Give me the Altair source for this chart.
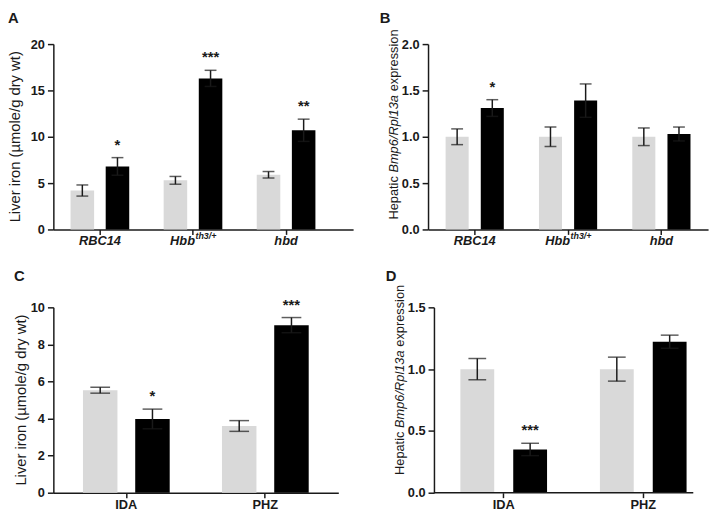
import altair as alt
import pandas as pd

FONT = "Liberation Sans"
GRAY = "#d9d9d9"
INK = "#1a1a1a"

# ---------------- data ----------------
a_cats = ["RBC14", "Hbb", "hbd"]
a_sup = ["", "th3/+", ""]
a_ctrl = [4.2, 5.3, 5.9]
a_ctrl_err = [0.6, 0.42, 0.35]
a_trt = [6.8, 16.3, 10.7]
a_trt_err = [0.95, 0.87, 1.2]
a_stars = ["*", "***", "**"]
a_ticks = [0, 5, 10, 15, 20]

b_cats = ["RBC14", "Hbb", "hbd"]
b_sup = ["", "th3/+", ""]
b_ctrl = [1.0, 1.0, 1.0]
b_ctrl_err = [0.085, 0.105, 0.095]
b_trt = [1.31, 1.39, 1.03]
b_trt_err = [0.09, 0.18, 0.075]
b_stars = ["*", "", ""]
b_ticks = [0.0, 0.5, 1.0, 1.5, 2.0]

c_cats = ["IDA", "PHZ"]
c_ctrl = [5.53, 3.6]
c_ctrl_err = [0.16, 0.29]
c_trt = [3.98, 9.04]
c_trt_err = [0.53, 0.41]
c_stars = ["*", "***"]
c_ticks = [0, 2, 4, 6, 8, 10]

d_cats = ["IDA", "PHZ"]
d_ctrl = [1.0, 1.0]
d_ctrl_err = [0.086, 0.097]
d_trt = [0.35, 1.222]
d_trt_err = [0.05, 0.053]
d_stars = ["***", ""]
d_ticks = [0.0, 0.5, 1.0, 1.5]

liver_title = "Liver iron (µmole/g dry wt)"
hep_title = ["Hepatic", "Bmp6/Rpl13a", "expression"]
hep_italic = [False, True, False]


def bars_df(cats, ctrl, ctrl_err, trt, trt_err, stars):
    rows = []
    for i, c in enumerate(cats):
        rows.append(dict(cat=c, grp="ctrl", val=ctrl[i], lo=ctrl[i] - ctrl_err[i],
                         hi=ctrl[i] + ctrl_err[i], star=""))
        rows.append(dict(cat=c, grp="trt", val=trt[i], lo=trt[i] - trt_err[i],
                         hi=trt[i] + trt_err[i], star=stars[i]))
    return pd.DataFrame(rows)


def panel(df, cats, sup, ticks, fmt, w, h, xscale, oscale, cap, letter, lpos,
          title_spec, axis_labels, rule_len=None):
    xaxis = alt.Axis(title=None, labels=axis_labels, domain=rule_len is None,
                     domainColor=INK, domainWidth=1.5, tickColor=INK, tickWidth=1.5,
                     tickSize=5, labelFont=FONT, labelFontSize=13, labelFontWeight="bold",
                     labelColor=INK, labelBaseline="alphabetic", labelPadding=11,
                     labelAngle=0)
    yaxis = alt.Axis(title=None, values=ticks, format=fmt, grid=False, domainColor=INK,
                     domainWidth=1.5, tickColor=INK, tickWidth=1.5, tickSize=6,
                     labelFont=FONT, labelFontSize=13, labelFontWeight="bold",
                     labelColor=INK, labelPadding=3)
    yscale = alt.Scale(domain=[0, ticks[-1]], nice=False, zero=True)

    def X():
        return alt.X("cat:N", sort=cats, scale=xscale, axis=xaxis)

    def Y(f):
        return alt.Y(f, type="quantitative", scale=yscale, axis=yaxis)

    xo = alt.XOffset("grp:N", sort=["ctrl", "trt"], scale=oscale)
    base = alt.Chart(df)
    bars = base.mark_bar().encode(
        x=X(), xOffset=xo, y=Y("val"),
        color=alt.Color("grp:N", scale=alt.Scale(domain=["ctrl", "trt"], range=[GRAY, "#000000"]), legend=None),
    )
    stem = base.mark_rule(color=INK, strokeWidth=1.5).encode(x=X(), xOffset=xo, y=Y("lo"), y2="hi:Q")
    cap_hi = base.mark_tick(color=INK, thickness=1.5, size=cap).encode(x=X(), xOffset=xo, y=Y("hi"))
    cap_lo = base.mark_tick(color=INK, thickness=1.5, size=cap).encode(x=X(), xOffset=xo, y=Y("lo"))
    stars = base.transform_filter("datum.star != ''").mark_text(
        font=FONT, fontSize=15, fontWeight="bold", color=INK, baseline="alphabetic", dy=-8
    ).encode(x=X(), xOffset=xo, y=Y("hi"), text="star:N")
    layers = [bars, stem, cap_hi, cap_lo, stars]

    if rule_len is not None:
        layers.append(alt.Chart(pd.DataFrame({"v": [0]})).mark_rule(color=INK, strokeWidth=1.5).encode(
            y=Y("v"), x=alt.value(0), x2=alt.value(rule_len)))

    if sup is not None:
        lab = alt.Chart(pd.DataFrame({"cat": cats, "sup": sup}))
        common = dict(font=FONT, fontSize=13, fontWeight="bold", fontStyle="italic", color=INK,
                      baseline="alphabetic")
        layers.append(lab.transform_filter("datum.sup == ''").mark_text(align="center", **common).encode(
            x=X(), y=alt.value(h + 16), text="cat:N"))
        layers.append(lab.transform_filter("datum.sup != ''").mark_text(align="right", dx=2, **common).encode(
            x=X(), y=alt.value(h + 16), text="cat:N"))
        common_sup = dict(common)
        common_sup["fontSize"] = 9
        layers.append(lab.transform_filter("datum.sup != ''").mark_text(align="left", dx=2.5, **common_sup).encode(
            x=X(), y=alt.value(h + 10), text="sup:N"))

    # panel letter
    layers.append(alt.Chart(pd.DataFrame({"t": [letter]})).mark_text(
        font=FONT, fontSize=15, fontWeight="bold", color=INK, align="left", baseline="top"
    ).encode(text="t:N", x=alt.value(lpos[0]), y=alt.value(lpos[1])))

    # y title
    for part in title_spec:
        txt, tx, ty, align, size, italic = part
        layers.append(alt.Chart(pd.DataFrame({"t": [txt]})).mark_text(
            font=FONT, fontSize=size, color=INK, angle=270, baseline="middle", align=align,
            fontStyle="italic" if italic else "normal"
        ).encode(text="t:N", x=alt.value(tx), y=alt.value(ty)))

    return alt.layer(*layers).properties(width=w, height=h)


H = 188
HS = 13


def hep_parts(tx, y_bottom):
    # widths of "Hepatic " and "Bmp6/Rpl13a " at HS px (Arial metrics)
    w1 = 3.668 * HS
    w2 = 6.336 * HS
    return [
        (hep_title[0], tx, y_bottom, "left", HS, hep_italic[0]),
        (hep_title[1], tx, y_bottom - w1, "left", HS, hep_italic[1]),
        (hep_title[2], tx, y_bottom - w1 - w2, "left", HS, hep_italic[2]),
    ]


A = panel(bars_df(a_cats, a_ctrl, a_ctrl_err, a_trt, a_trt_err, a_stars), a_cats, a_sup, a_ticks, "d",
          304, H, alt.Scale(paddingInner=0, paddingOuter=0.11, align=0),
          alt.Scale(paddingInner=0.33, paddingOuter=0.49), 12, "A", (-46, -33),
          [(liver_title, -38.5, H / 2, "center", 15, False)], False)

B = panel(bars_df(b_cats, b_ctrl, b_ctrl_err, b_trt, b_trt_err, b_stars), b_cats, b_sup, b_ticks, ".1f",
          284, H, alt.Scale(paddingInner=0, paddingOuter=0, align=0),
          alt.Scale(paddingInner=0.345, paddingOuter=0.5), 12, "B", (-49, -33),
          hep_parts(-34, 178), False)

C = panel(bars_df(c_cats, c_ctrl, c_ctrl_err, c_trt, c_trt_err, c_stars), c_cats, None, c_ticks, "d",
          289, H, alt.Scale(paddingInner=0, paddingOuter=0.025, align=0.5),
          alt.Scale(paddingInner=0.34, paddingOuter=0.5), 20, "C", (-40, -39),
          [(liver_title, -32.5, H / 2, "center", 15, False)], True)

D = panel(bars_df(d_cats, d_ctrl, d_ctrl_err, d_trt, d_trt_err, d_stars), d_cats, None, d_ticks, ".1f",
          263, H, alt.Scale(paddingInner=0, paddingOuter=0, range=[0, 283]),
          alt.Scale(paddingInner=0.36, paddingOuter=0.5), 18, "D", (-49, -39),
          hep_parts(-34, 170), True, rule_len=263)

top = alt.hconcat(A, B, spacing=27).resolve_scale(xOffset="independent", color="independent")
bottom = alt.hconcat(C, D, spacing=48).resolve_scale(xOffset="independent", color="independent")
chart = (
    alt.vconcat(top, bottom, spacing=21)
    .resolve_scale(xOffset="independent", color="independent")
    .properties(padding=0)
    .configure_view(stroke=None)
)

chart.save("out.html", embed_options={"renderer": "svg", "actions": False})
